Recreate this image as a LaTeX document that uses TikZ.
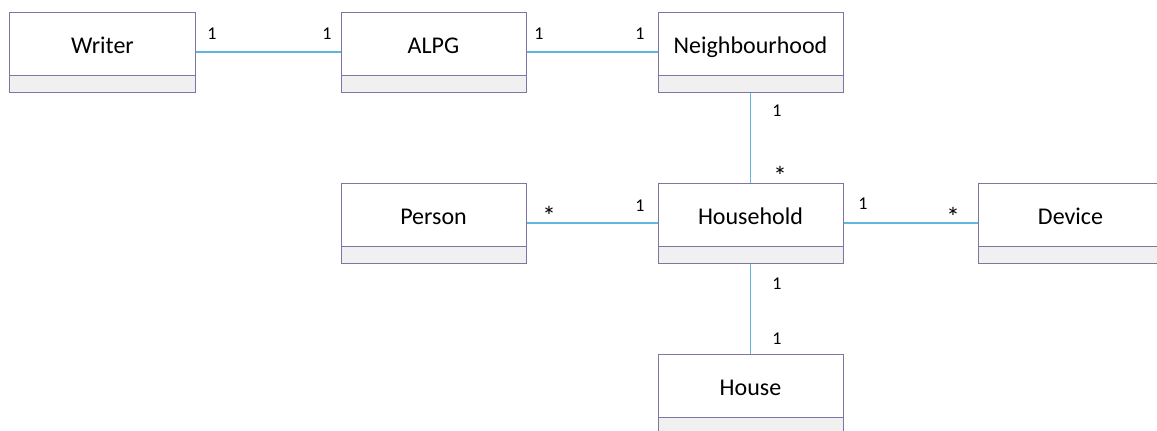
\documentclass[tikz,border=0pt]{standalone}
\usepackage{fontspec}
\setmainfont{Carlito}
\definecolor{border}{RGB}{128,116,164}
\definecolor{comp}{RGB}{240,240,240}
\definecolor{link}{RGB}{98,182,222}
\begin{document}
\begin{tikzpicture}[x=1bp,y=-1bp,
  cls/.style={draw=border,line width=1bp,fill=white,minimum width=185bp,minimum height=80bp,inner sep=0pt,
    path picture={\fill[comp] (path picture bounding box.south west) rectangle ([yshift=17bp]path picture bounding box.south east);
      \draw[border,line width=1bp] ([yshift=17bp]path picture bounding box.south west) -- ([yshift=17bp]path picture bounding box.south east);},
    font=\fontsize{24bp}{28bp}\selectfont},
  ttl/.style={font=\fontsize{24bp}{28bp}\selectfont,inner sep=0pt,anchor=base},
  lnk/.style={draw=link,line width=1.2bp},
  mult/.style={font=\fontsize{18bp}{20bp}\selectfont,inner sep=0pt,anchor=base},
  star/.style={font=\fontsize{27bp}{30bp}\selectfont,inner sep=0pt,anchor=north}
]
\useasboundingbox (0,0) rectangle (1157,430);
% classes
\node[cls] (writer) at (102.5,52) {};
\node[cls] (alpg) at (433.5,52) {};
\node[cls] (neigh) at (750.5,52) {};
\node[cls] (person) at (433.5,223) {};
\node[cls] (house) at (750.5,223) {};
\node[cls] (device) at (1070.5,223) {};
\node[cls] (houseb) at (750.5,394) {};
% titles
\node[ttl] (twriter) at (102.5,53) {Writer};
\node[ttl] (talpg) at (433.5,53) {ALPG};
\node[ttl] (tneigh) at (750.5,53) {Neighbourhood};
\node[ttl] (tperson) at (433.5,224) {Person};
\node[ttl] (thouse) at (750.5,224) {Household};
\node[ttl] (tdevice) at (1070.5,224) {Device};
\node[ttl] (thouseb) at (750.5,395) {House};
% connectors
\draw[lnk] (writer.east) -- (alpg.west);
\draw[lnk] (alpg.east) -- (neigh.west);
\draw[lnk] (neigh.south) -- (house.north);
\draw[lnk] (person.east) -- (house.west);
\draw[lnk] (house.east) -- (device.west);
\draw[lnk] (house.south) -- (houseb.north);
% multiplicities
\node[mult] (m1) at (212,39) {1};
\node[mult] (m2) at (327,39) {1};
\node[mult] (m3) at (539,39) {1};
\node[mult] (m4) at (640,39) {1};
\node[mult] (m5) at (777,116) {1};
\node[star] (m6) at (780,166) {*};
\node[star] (m7) at (549,206.5) {*};
\node[mult] (m8) at (640,211) {1};
\node[mult] (m9) at (863,209) {1};
\node[star] (m10) at (953,207) {*};
\node[mult] (m11) at (777,289) {1};
\node[mult] (m12) at (777,344) {1};
\end{tikzpicture}
\end{document}
